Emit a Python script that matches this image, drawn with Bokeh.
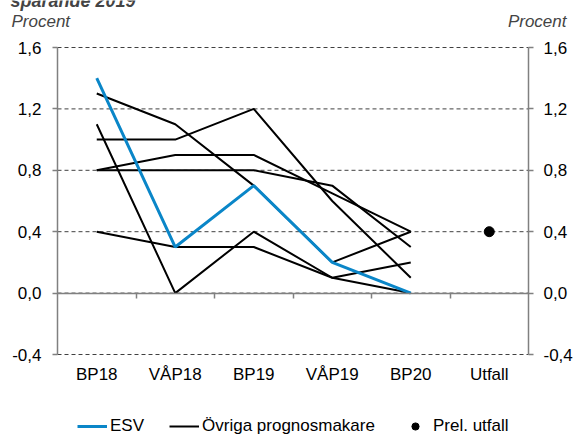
from bokeh.plotting import figure
from bokeh.models import (Range1d, LinearAxis, FixedTicker, Legend, LegendItem, Label)
from bokeh.embed import file_html
from bokeh.resources import INLINE

# ---- data ----
categories = ["BP18", "VÅP18", "BP19", "VÅP19", "BP20", "Utfall"]
forecast_points = ["BP18", "VÅP18", "BP19", "VÅP19", "BP20"]
esv = [1.4, 0.3, 0.7, 0.2, 0.0]
ovriga_1 = [1.3, 1.1, 0.7, 0.2, 0.4]
ovriga_2 = [1.1, 0.0, 0.4, 0.1, 0.2]
ovriga_3 = [1.0, 1.0, 1.2, 0.6, 0.1]
ovriga_4 = [0.8, 0.9, 0.9, 0.65, 0.4]
ovriga_5 = [0.8, 0.8, 0.8, 0.7, 0.3]
ovriga_6 = [0.4, 0.3, 0.3, 0.1, 0.0]
prel_utfall_cat = ["Utfall"]
prel_utfall = [0.4]
y_ticks = [-0.4, 0.0, 0.4, 0.8, 1.2, 1.6]
y_tick_labels = ["-0,4", "0,0", "0,4", "0,8", "1,2", "1,6"]
title_text = "sparande 2019"
unit_text = "Procent"

FONT = "Liberation Sans"
FS = "17px"
GRAY = "#808080"
BLUE = "#0A86C8"

# ---- geometry (pixels on the canvas) ----
W, H = 576, 438
PLOT_L, PLOT_R, PLOT_T, PLOT_B = 57, 528, 47, 354
ncat = len(categories)
ymin, ymax = y_ticks[0], y_ticks[-1]
px_x = (PLOT_R - PLOT_L) / ncat
px_y = (PLOT_B - PLOT_T) / (ymax - ymin)
x_start = -PLOT_L / px_x
x_end = ncat + (W - PLOT_R) / px_x
y_start = ymin - (H - PLOT_B) / px_y
y_end = ymax + PLOT_T / px_y

def pos(cats):
    return [categories.index(c) + 0.5 for c in cats]

p = figure(width=W, height=H,
           x_range=Range1d(x_start, x_end), y_range=Range1d(y_start, y_end),
           output_backend="svg", toolbar_location=None,
           min_border=0, min_border_left=0, min_border_right=0,
           min_border_top=0, min_border_bottom=0,
           background_fill_color="white", border_fill_color="white",
           outline_line_color=None)

p.xaxis.visible = False
p.yaxis.visible = False
p.xgrid.visible = False
p.ygrid.visible = False

# dashed horizontal grid lines across the category area
p.segment(x0=[0] * len(y_ticks), x1=[ncat] * len(y_ticks), y0=y_ticks, y1=y_ticks,
          line_color="#404040", line_dash="4 3", line_width=1)

ylab = {t: l for t, l in zip(y_ticks, y_tick_labels)}
left_axis = LinearAxis(fixed_location=0, bounds=(ymin, ymax),
                       ticker=FixedTicker(ticks=y_ticks), major_label_overrides=ylab)
right_axis = LinearAxis(fixed_location=ncat, bounds=(ymin, ymax),
                        ticker=FixedTicker(ticks=y_ticks), major_label_overrides=ylab)
p.add_layout(left_axis, "left")
p.add_layout(right_axis, "right")
for ax, so in [(left_axis, 11), (right_axis, 10)]:
    ax.axis_line_color = GRAY
    ax.axis_line_width = 1.5
    ax.major_tick_line_color = GRAY
    ax.major_tick_line_width = 1.5
    ax.major_tick_out = 5
    ax.major_tick_in = 0
    ax.minor_tick_line_color = None
    ax.major_label_standoff = so
    ax.major_label_text_font = FONT
    ax.major_label_text_font_size = FS
    ax.major_label_text_color = "black"

# category labels under the lowest gridline
cat_pos = pos(categories)
cat_axis = LinearAxis(fixed_location=ymin, ticker=FixedTicker(ticks=cat_pos),
                      major_label_overrides={t: c for t, c in zip(cat_pos, categories)})
cat_axis.axis_line_color = None
cat_axis.major_tick_line_color = None
cat_axis.major_tick_out = 0
cat_axis.major_tick_in = 0
cat_axis.minor_tick_line_color = None
cat_axis.major_label_standoff = 10
cat_axis.major_label_text_font = FONT
cat_axis.major_label_text_font_size = FS
cat_axis.major_label_text_color = "black"
p.add_layout(cat_axis, "below")

# zero line with category separators
zero_axis = LinearAxis(fixed_location=0, bounds=(0, ncat),
                       ticker=FixedTicker(ticks=list(range(1, ncat))))
zero_axis.axis_line_color = GRAY
zero_axis.axis_line_width = 1.5
zero_axis.major_tick_line_color = GRAY
zero_axis.major_tick_line_width = 1.5
zero_axis.major_tick_out = 5
zero_axis.major_tick_in = 0
zero_axis.minor_tick_line_color = None
zero_axis.major_label_text_color = None
zero_axis.major_label_text_font_size = "1px"
p.add_layout(zero_axis, "below")

# data lines
xs = pos(forecast_points)
black_renderers = []
for row in [ovriga_1, ovriga_2, ovriga_3, ovriga_4, ovriga_5, ovriga_6]:
    black_renderers.append(p.line(xs, row, line_color="black", line_width=2))
r_esv = p.line(xs, esv, line_color=BLUE, line_width=3)
r_dot = p.scatter(pos(prel_utfall_cat), prel_utfall, size=10, color="black")

legend = Legend(items=[LegendItem(label="ESV", renderers=[r_esv]),
                       LegendItem(label="Övriga prognosmakare", renderers=[black_renderers[0]]),
                       LegendItem(label="Prel. utfall", renderers=[r_dot])],
                orientation="horizontal", location=(77, 2), padding=0, margin=0,
                spacing=25, label_standoff=3, glyph_width=30, glyph_height=18,
                label_height=18, border_line_color=None, background_fill_alpha=0,
                label_text_font=FONT, label_text_font_size=FS, label_text_color="black")
p.add_layout(legend, "center")

# unit labels and (clipped) title
unit_y = ymax + (PLOT_T - 21) / px_y
title_y = ymax + (PLOT_T - 0) / px_y
p.add_layout(Label(x=x_start + 11 / px_x, y=unit_y, text=unit_text, text_font=FONT,
                   text_font_size=FS, text_font_style="italic",
                   text_baseline="middle", text_align="left"))
p.add_layout(Label(x=x_start + 566 / px_x, y=unit_y, text=unit_text, text_font=FONT,
                   text_font_size=FS, text_font_style="italic",
                   text_baseline="middle", text_align="right"))
p.add_layout(Label(x=x_start + 10 / px_x, y=title_y, text=title_text, text_font=FONT,
                   text_font_size="18px", text_font_style="bold italic",
                   text_baseline="alphabetic", text_align="left"))

open("out.html", "w").write(file_html(p, INLINE))
